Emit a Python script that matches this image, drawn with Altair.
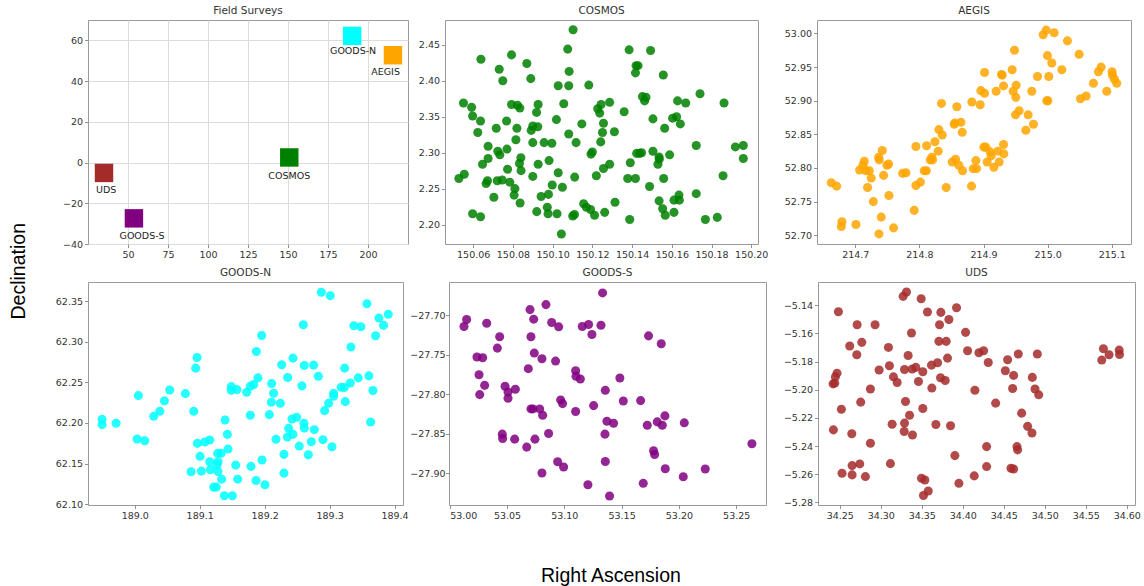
import altair as alt
import pandas as pd

# ---------------- Field survey overview ----------------
survey_names = ["UDS", "GOODS-S", "COSMOS", "GOODS-N", "AEGIS"]
survey_ra = [35.0, 53.7, 150.8, 190.1, 215.6]
survey_dec = [-5.1, -27.4, 2.5, 62.2, 52.7]
survey_label_ra = [36.4, 58.8, 150.8, 190.7, 211.0]
survey_label_dec = [-13.5, -36.3, -6.4, 54.6, 44.7]
survey_colors = ["#A52A2A", "#800080", "#008000", "#00FFFF", "#FFA500"]

# ---------------- COSMOS ----------------
cosmos_ra = [150.0528, 150.0555, 150.0551, 150.0592, 150.0597, 150.0637, 150.0623, 150.0639, 150.0597, 150.0637,
             150.0647, 150.0675, 150.0675, 150.0665, 150.0672, 150.0704, 150.0716, 150.0721, 150.0724, 150.0734,
             150.0731, 150.0749, 150.0793, 150.0746, 150.0768, 150.0770, 150.0773, 150.0784, 150.0793, 150.0823,
             150.0835, 150.0820, 150.0815, 150.0810, 150.0806, 150.0836, 150.0833, 150.0840, 150.0841, 150.0870,
             150.0890, 150.0892, 150.0900, 150.0925, 150.0919, 150.0927, 150.0900, 150.0900, 150.0927, 150.0920,
             150.0942, 150.0957, 150.0979, 150.0973, 150.0982, 150.0977, 150.0996, 150.0998, 150.1022, 150.1019,
             150.1028, 150.1028, 150.1049, 150.1044, 150.1056, 150.1076, 150.1081, 150.1081, 150.1083, 150.1103,
             150.1101, 150.1110, 150.1111, 150.1118, 150.1147, 150.1156, 150.1170, 150.1182, 150.1191, 150.1193,
             150.1200, 150.1211, 150.1220, 150.1227, 150.1237, 150.1244, 150.1242, 150.1251, 150.1256, 150.1256,
             150.1262, 150.1287, 150.1287, 150.1311, 150.1314, 150.1360, 150.1378, 150.1385, 150.1391, 150.1388,
             150.1417, 150.1417, 150.1420, 150.1430, 150.1423, 150.1438, 150.1448, 150.1452, 150.1463, 150.1470,
             150.1488, 150.1493, 150.1505, 150.1505, 150.1530, 150.1536, 150.1537, 150.1536, 150.1554, 150.1557,
             150.1559, 150.1564, 150.1567, 150.1589, 150.1604, 150.1611, 150.1611, 150.1624, 150.1629, 150.1636,
             150.1638, 150.1643, 150.1670, 150.1723, 150.1723, 150.1742, 150.1769, 150.1829, 150.1858, 150.1863,
             150.1920, 150.1960, 150.1960]
cosmos_dec = [2.264, 2.270, 2.369, 2.363, 2.351, 2.344, 2.328, 2.430, 2.215, 2.211,
              2.284, 2.309, 2.292, 2.257, 2.261, 2.238, 2.334, 2.261, 2.302, 2.297,
              2.416, 2.400, 2.436, 2.262, 2.344, 2.305, 2.277, 2.259, 2.367, 2.366,
              2.362, 2.334, 2.318, 2.250, 2.241, 2.230, 2.285, 2.293, 2.275, 2.424,
              2.403, 2.331, 2.337, 2.336, 2.356, 2.367, 2.314, 2.267, 2.284, 2.218,
              2.239, 2.314, 2.242, 2.224, 2.289, 2.215, 2.313, 2.255, 2.215, 2.346,
              2.393, 2.272, 2.252, 2.187, 2.368, 2.444, 2.326, 2.393, 2.413, 2.471,
              2.212, 2.214, 2.266, 2.314, 2.340, 2.229, 2.224, 2.394, 2.221, 2.298,
              2.301, 2.213, 2.268, 2.361, 2.355, 2.367, 2.315, 2.328, 2.341, 2.278,
              2.217, 2.370, 2.284, 2.329, 2.231, 2.357, 2.264, 2.443, 2.286, 2.207,
              2.264, 2.411, 2.421, 2.421, 2.299, 2.299, 2.300, 2.378, 2.372, 2.377,
              2.253, 2.442, 2.302, 2.347, 2.284, 2.294, 2.291, 2.233, 2.222, 2.408,
              2.264, 2.334, 2.213, 2.297, 2.348, 2.234, 2.217, 2.350, 2.372, 2.241,
              2.234, 2.340, 2.369, 2.310, 2.243, 2.382, 2.207, 2.210, 2.268, 2.369,
              2.308, 2.310, 2.292]

# ---------------- AEGIS ----------------
aegis_ra = [214.6626, 214.6709, 214.6782, 214.6792, 214.7010, 214.7068, 214.7119, 214.7140, 214.7166, 214.7192,
            214.7218, 214.7249, 214.7281, 214.7364, 214.7374, 214.7421, 214.7405, 214.7442, 214.7369, 214.7494,
            214.7519, 214.7525, 214.7597, 214.7738, 214.7790, 214.7919, 214.7945, 214.7945, 214.8016, 214.8075,
            214.8109, 214.8112, 214.8169, 214.8195, 214.8205, 214.8242, 214.8294, 214.8304, 214.8345, 214.8356,
            214.8418, 214.8512, 214.8543, 214.8564, 214.8553, 214.8584, 214.8616, 214.8647, 214.8668, 214.8673,
            214.8813, 214.8818, 214.8839, 214.8891, 214.8881, 214.8948, 214.8958, 214.9016, 214.9016, 214.9005,
            214.9036, 214.9057, 214.9104, 214.9119, 214.9161, 214.9197, 214.9223, 214.9244, 214.9281, 214.9291,
            214.9312, 214.9312, 214.9317, 214.9447, 214.9462, 214.9483, 214.9504, 214.9509, 214.9499, 214.9556,
            214.9660, 214.9696, 214.9753, 214.9779, 214.9842, 214.9930, 214.9977, 215.0101, 214.9997, 215.0018,
            215.0065, 214.9987, 215.0003, 215.0221, 215.0309, 215.0491, 215.0512, 215.0600, 215.0714, 215.0792,
            215.0834, 215.0922, 215.1005, 215.1010, 215.1042, 215.1078]
aegis_dec = [52.778, 52.773, 52.713, 52.720, 52.716, 52.797, 52.804, 52.810, 52.796, 52.771,
             52.796, 52.785, 52.750, 52.816, 52.812, 52.826, 52.727, 52.789, 52.702, 52.804,
             52.806, 52.759, 52.711, 52.792, 52.793, 52.737, 52.832, 52.774, 52.779, 52.796,
             52.796, 52.833, 52.812, 52.816, 52.812, 52.839, 52.825, 52.857, 52.896, 52.849,
             52.771, 52.809, 52.865, 52.813, 52.867, 52.891, 52.804, 52.868, 52.853, 52.796,
             52.773, 52.898, 52.799, 52.799, 52.811, 52.894, 52.915, 52.942, 52.911, 52.831,
             52.831, 52.809, 52.824, 52.818, 52.801, 52.914, 52.825, 52.809, 52.939, 52.938,
             52.922, 52.835, 52.821, 52.946, 52.914, 52.975, 52.905, 52.923, 52.879, 52.885,
             52.856, 52.879, 52.914, 52.865, 52.936, 52.998, 53.005, 53.001, 52.967, 52.936,
             52.956, 52.900, 52.900, 52.946, 52.989, 52.969, 52.903, 52.907, 52.926, 52.943,
             52.950, 52.914, 52.943, 52.938, 52.932, 52.926]

# ---------------- GOODS-N ----------------
goodsn_ra = [188.9497, 188.9497, 188.9713, 189.0056, 189.0036, 189.0154, 189.0292, 189.0385, 189.0456, 189.0538,
             189.0779, 189.0908, 189.0867, 189.0938, 189.0959, 189.0964, 189.1005, 189.1026, 189.1077, 189.1154,
             189.1154, 189.1164, 189.1215, 189.1256, 189.1267, 189.1282, 189.1282, 189.1277, 189.1338, 189.1328,
             189.1390, 189.1426, 189.1436, 189.1379, 189.1503, 189.1487, 189.1487, 189.1574, 189.1554, 189.1585,
             189.1723, 189.1779, 189.1779, 189.1831, 189.1790, 189.1872, 189.1897, 189.1867, 189.1954, 189.1959,
             189.2005, 189.2072, 189.2108, 189.2138, 189.2103, 189.2174, 189.2241, 189.2262, 189.2297, 189.2297,
             189.2354, 189.2349, 189.2369, 189.2421, 189.2436, 189.2436, 189.2492, 189.2533, 189.2574, 189.2595,
             189.2610, 189.2605, 189.2610, 189.2672, 189.2718, 189.2754, 189.2764, 189.2826, 189.2872, 189.2897,
             189.2923, 189.2985, 189.3010, 189.3036, 189.3062, 189.3062, 189.3179, 189.3226, 189.3231, 189.3241,
             189.3318, 189.3328, 189.3374, 189.3482, 189.3441, 189.3574, 189.3605, 189.3631, 189.3667, 189.3708,
             189.3759, 189.3831, 189.3903]
goodsn_dec = [62.2044, 62.1979, 62.1995, 62.2336, 62.1802, 62.1781, 62.2081, 62.2143, 62.2271, 62.2406,
              62.2361, 62.2143, 62.1399, 62.2674, 62.2805, 62.1748, 62.1588, 62.1407, 62.1765, 62.1789,
              62.1522, 62.1423, 62.1210, 62.1210, 62.1485, 62.1522, 62.1403, 62.1625, 62.1308, 62.1625,
              62.2036, 62.1859, 62.1678, 62.1103, 62.1103, 62.2447, 62.2402, 62.2410, 62.1481, 62.1308,
              62.2377, 62.2094, 62.2451, 62.2472, 62.1465, 62.2879, 62.2554, 62.1292, 62.3076, 62.1543,
              62.1239, 62.2102, 62.2484, 62.2365, 62.2254, 62.1798, 62.2242, 62.2715, 62.1382, 62.1613,
              62.2558, 62.1826, 62.1933, 62.2048, 62.2797, 62.1859, 62.2069, 62.1715, 62.2456, 62.3208,
              62.2706, 62.1995, 62.1937, 62.1609, 62.1769, 62.2711, 62.1917, 62.2575, 62.3607, 62.1794,
              62.2151, 62.2242, 62.3566, 62.1707, 62.2365, 62.2328, 62.2439, 62.2435, 62.2674, 62.2262,
              62.2492, 62.2933, 62.3196, 62.3183, 62.2554, 62.3467, 62.2579, 62.2011, 62.2398, 62.3072,
              62.3290, 62.3200, 62.3336]

# ---------------- GOODS-S ----------------
goodss_ra = [53.0125, 53.0148, 53.0238, 53.0288, 53.0256, 53.0262, 53.0305, 53.0323, 53.0416, 53.0436,
             53.0459, 53.0462, 53.0483, 53.0509, 53.0509, 53.0573, 53.0567, 53.0672, 53.0686, 53.0701,
             53.0709, 53.0709, 53.0727, 53.0733, 53.0738, 53.0744, 53.0785, 53.0805, 53.0811, 53.0805,
             53.0840, 53.0863, 53.0890, 53.0924, 53.0951, 53.0942, 53.0968, 53.0985, 53.0994, 53.1099,
             53.1102, 53.1140, 53.1099, 53.1157, 53.1212, 53.1241, 53.1256, 53.1206, 53.1320, 53.1334,
             53.1358, 53.1355, 53.1358, 53.1372, 53.1430, 53.1395, 53.1485, 53.1515, 53.1666, 53.1689,
             53.1724, 53.1735, 53.1811, 53.1846, 53.1855, 53.1779, 53.1788, 53.1878, 53.1881, 53.2038,
             53.2047, 53.2230, 53.2637]
goodss_dec = [-27.7143, -27.7055, -27.7529, -27.7538, -27.7752, -27.8004, -27.7887, -27.7101, -27.7416, -27.7273,
              -27.8504, -27.8559, -27.7899, -27.7971, -27.8050, -27.7937, -27.8567, -27.8668, -27.7676, -27.6929,
              -27.7273, -27.8185, -27.8185, -27.7050, -27.7479, -27.8567, -27.8185, -27.7550, -27.8265, -27.8996,
              -27.6866, -27.8496, -27.7092, -27.7580, -27.7147, -27.8853, -27.8071, -27.8118, -27.8920, -27.7702,
              -27.7773, -27.7807, -27.8218, -27.7143, -27.7118, -27.7244, -27.8143, -27.9143, -27.7126, -27.6718,
              -27.7950, -27.8504, -27.8849, -27.8340, -27.8366, -27.9286, -27.7794, -27.8084, -27.8080, -27.9126,
              -27.8391, -27.7261, -27.8349, -27.7361, -27.8391, -27.8714, -27.8761, -27.8273, -27.8941, -27.9042,
              -27.8361, -27.8945, -27.8626]

# ---------------- UDS ----------------
uds_ra = [34.2419, 34.2439, 34.2447, 34.2467, 34.2484, 34.2520, 34.2423, 34.2528, 34.2622, 34.2647,
          34.2651, 34.2651, 34.2712, 34.2708, 34.2744, 34.2756, 34.2769, 34.2813, 34.2874, 34.2874,
          34.2931, 34.2980, 34.3094, 34.3106, 34.3118, 34.3139, 34.3155, 34.3200, 34.3273, 34.3314,
          34.3290, 34.3286, 34.3290, 34.3302, 34.3334, 34.3351, 34.3375, 34.3387, 34.3383, 34.3428,
          34.3460, 34.3493, 34.3513, 34.3513, 34.3497, 34.3538, 34.3521, 34.3579, 34.3570, 34.3619,
          34.3623, 34.3672, 34.3693, 34.3709, 34.3717, 34.3733, 34.3729, 34.3786, 34.3798, 34.3814,
          34.3831, 34.3851, 34.3904, 34.3924, 34.3953, 34.4034, 34.4059, 34.4148, 34.4140, 34.4197,
          34.4254, 34.4311, 34.4291, 34.4291, 34.4401, 34.4519, 34.4547, 34.4588, 34.4608, 34.4620,
          34.4620, 34.4661, 34.4677, 34.4669, 34.4718, 34.4791, 34.4844, 34.4848, 34.4881, 34.4909,
          34.4926, 34.5695, 34.5715, 34.5784, 34.5907, 34.5911]
uds_dec = [-5.1958, -5.1953, -5.1908, -5.1882, -5.1445, -5.2138, -5.2285, -5.2593, -5.1689, -5.2313,
           -5.2539, -5.2605, -5.1538, -5.1751, -5.2527, -5.2088, -5.1663, -5.2617, -5.1995, -5.2380,
           -5.1538, -5.1860, -5.1699, -5.1829, -5.2525, -5.2245, -5.1908, -5.1948, -5.1336, -5.1305,
           -5.1856, -5.2297, -5.2237, -5.2083, -5.1756, -5.2181, -5.1597, -5.2321, -5.1853, -5.1841,
           -5.1941, -5.1353, -5.1872, -5.2133, -5.2629, -5.2641, -5.2752, -5.2719, -5.1447, -5.1825,
           -5.1988, -5.2247, -5.1808, -5.1656, -5.1538, -5.1450, -5.1915, -5.1934, -5.1656, -5.1775,
           -5.1500, -5.2256, -5.2468, -5.1417, -5.2665, -5.1592, -5.1723, -5.2003, -5.2612, -5.1737,
           -5.1723, -5.1806, -5.2404, -5.2546, -5.2095, -5.1865, -5.1787, -5.2558, -5.1991, -5.2563,
           -5.1898, -5.2404, -5.1746, -5.2427, -5.2166, -5.2260, -5.2307, -5.1912, -5.1995, -5.1746,
           -5.2036, -5.1789, -5.1708, -5.1751, -5.1718, -5.1749]

TICK_FONT = "DejaVu Sans"


def panel_title(text):
    return alt.TitleParams(text, font=TICK_FONT, fontSize=10.5, fontWeight="normal",
                           color="#333333", offset=4)


def scatter(ra, dec, color, title, xdom, ydom, xticks, yticks, xfmt, yfmt, w, h, yext, ypad=2):
    df = pd.DataFrame({"ra": ra, "dec": dec})
    return alt.Chart(df, title=panel_title(title)).mark_circle(
        size=82, opacity=0.85, color=color
    ).encode(
        x=alt.X("ra:Q", scale=alt.Scale(domain=xdom, nice=False, zero=False),
                axis=alt.Axis(values=xticks, format=xfmt, title=None, grid=False,
                              minExtent=18, maxExtent=18)),
        y=alt.Y("dec:Q", scale=alt.Scale(domain=ydom, nice=False, zero=False),
                axis=alt.Axis(values=yticks, format=yfmt, title=None, grid=False,
                              labelPadding=ypad, minExtent=yext, maxExtent=yext)),
    ).properties(width=w, height=h)


# Field Surveys panel
fs_df = pd.DataFrame({"name": survey_names, "ra": survey_ra, "dec": survey_dec,
                      "lra": survey_label_ra, "ldec": survey_label_dec})
fs_x = alt.Scale(domain=[25, 225], nice=False, zero=False)
fs_y = alt.Scale(domain=[-40, 70], nice=False, zero=False)
fs_squares = alt.Chart(fs_df).mark_square(size=340, opacity=1).encode(
    x=alt.X("ra:Q", scale=fs_x,
            axis=alt.Axis(values=[50, 75, 100, 125, 150, 175, 200], format="d", title=None,
                          grid=True, gridColor="#dcdcdc", minExtent=18, maxExtent=18)),
    y=alt.Y("dec:Q", scale=fs_y,
            axis=alt.Axis(values=[-40, -20, 0, 20, 40, 60], format="d", title=None,
                          grid=True, gridColor="#dcdcdc", minExtent=36, maxExtent=36)),
    color=alt.Color("name:N", scale=alt.Scale(domain=survey_names, range=survey_colors), legend=None),
)
fs_labels = alt.Chart(fs_df).mark_text(font=TICK_FONT, fontSize=9.5, color="#222222",
                                       baseline="middle", align="center").encode(
    x=alt.X("lra:Q", scale=fs_x),
    y=alt.Y("ldec:Q", scale=fs_y),
    text="name:N",
)
fs = alt.layer(fs_squares, fs_labels, title=panel_title("Field Surveys")).properties(width=320, height=224)

cosmos = scatter(cosmos_ra, cosmos_dec, "#008000", "COSMOS",
                 [150.0458, 150.2034], [2.173, 2.4845],
                 [150.06, 150.08, 150.10, 150.12, 150.14, 150.16, 150.18, 150.20],
                 [2.20, 2.25, 2.30, 2.35, 2.40, 2.45], ".2f", ".2f", 313, 224, 33.5)
aegis = scatter(aegis_ra, aegis_dec, "#FFA500", "AEGIS",
                [214.6403, 215.130], [52.687, 53.020],
                [214.7, 214.8, 214.9, 215.0, 215.1],
                [52.70, 52.75, 52.80, 52.85, 52.90, 52.95, 53.00], ".1f", ".2f", 314, 224, 45.5)
goodsn = scatter(goodsn_ra, goodsn_dec, "#00FFFF", "GOODS-N",
                 [188.928, 189.413], [62.099, 62.3734],
                 [189.0, 189.1, 189.2, 189.3, 189.4],
                 [62.10, 62.15, 62.20, 62.25, 62.30, 62.35], ".1f", ".2f", 315, 223, 38)
goodss = scatter(goodss_ra, goodss_dec, "#800080", "GOODS-S",
                 [52.9994, 53.276], [-27.940, -27.658],
                 [53.00, 53.05, 53.10, 53.15, 53.20, 53.25],
                 [-27.90, -27.85, -27.80, -27.75, -27.70], ".2f", ".2f", 317, 223, 39, ypad=0.5)
uds = scatter(uds_ra, uds_dec, "#A52A2A", "UDS",
              [34.2235, 34.610], [-5.2819, -5.1234],
              [34.25, 34.30, 34.35, 34.40, 34.45, 34.50, 34.55, 34.60],
              [-5.28, -5.26, -5.24, -5.22, -5.20, -5.18, -5.16, -5.14], ".2f", ".2f", 317, 223, 50.5)

row1 = alt.hconcat(fs, cosmos, aegis, spacing=2)
row2 = alt.hconcat(goodsn, goodss, uds, spacing=0)

inner = alt.vconcat(row1, row2, spacing=4,
                    title=alt.TitleParams("Declination", orient="left", anchor="middle",
                                          font="Liberation Sans", fontSize=19.5,
                                          fontWeight="normal", color="black", offset=20,
                                          dx=-7))

chart = alt.vconcat(
    inner,
    title=alt.TitleParams("Right Ascension", orient="bottom", anchor="middle",
                          font="Liberation Sans", fontSize=19.5, fontWeight="normal",
                          color="black", offset=43, dx=36),
).properties(
    padding={"left": 9, "top": 5, "right": 2, "bottom": 2},
    background="white",
).configure_view(
    stroke="#9a9a9a", strokeWidth=1
).configure_axis(
    domain=False, tickColor="#777777", tickSize=3.5, tickWidth=0.8,
    labelFont=TICK_FONT, labelFontSize=9.5, labelColor="#333333", labelPadding=2,
)

chart.save("out.html", embed_options={"renderer": "svg", "actions": False})
